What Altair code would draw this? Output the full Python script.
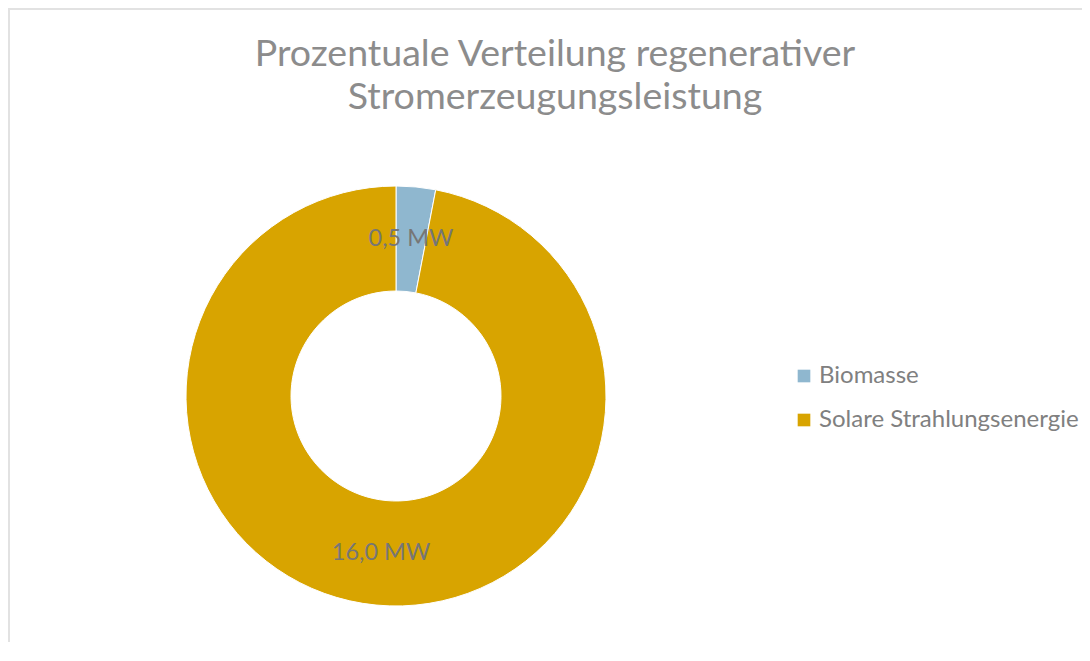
import altair as alt
import pandas as pd

# ---- data ----
categories = ["Biomasse", "Solare Strahlungsenergie"]
values_mw = [0.5, 16.0]
value_labels = ["0,5 MW", "16,0 MW"]
slice_order = [0, 1]
colors = ["#8FB7CF", "#D8A400"]
title_lines = ["Prozentuale Verteilung regenerativer", "Stromerzeugungsleistung"]

df = pd.DataFrame({
    "Kategorie": categories,
    "Wert": values_mw,
    "Label": value_labels,
    "Reihenfolge": slice_order,
})

W, H = 1074, 634
CX, CY = 388, 388
FONT = "Lato"

color_scale = alt.Scale(domain=categories, range=colors)

base = alt.Chart(df).encode(
    theta=alt.Theta("Wert:Q", stack=True),
    order=alt.Order("Reihenfolge:Q", sort="ascending"),
)

donut = base.mark_arc(
    outerRadius=210, innerRadius=105, stroke="#ffffff", strokeWidth=1
).encode(
    color=alt.Color(
        "Kategorie:N",
        scale=color_scale,
        sort=categories,
        legend=alt.Legend(
            title=None,
            orient="none",
            legendX=784,
            legendY=356,
            symbolType="square",
            symbolSize=160,
            symbolStrokeWidth=0,
            labelFont=FONT,
            labelFontSize=24,
            labelColor="#808080",
            labelOffset=3,
            rowPadding=20,
            labelLimit=400,
        ),
    ),
    x=alt.value(CX),
    y=alt.value(CY),
)

labels = base.mark_text(
    radius=157.5, font=FONT, fontSize=23.5, color="#767676",
    align="center", baseline="middle",
).encode(
    text="Label:N",
    x=alt.value(CX),
    y=alt.value(CY),
)

title_layers = []
for i, line in enumerate(title_lines):
    title_layers.append(
        alt.Chart(pd.DataFrame({"t": [line]})).mark_text(
            font=FONT, fontSize=37.5, color="#8c8c8c",
            align="center", baseline="alphabetic",
        ).encode(text="t:N", x=alt.value(547), y=alt.value(58 + 43 * i))
    )

edge = pd.DataFrame({"e": [0]})
top_border = alt.Chart(edge).mark_rule(color="#e2e2e2", strokeWidth=2).encode(
    x=alt.value(0), x2=alt.value(W + 20), y=alt.value(1)
)
left_border = alt.Chart(edge).mark_rule(color="#e2e2e2", strokeWidth=2).encode(
    x=alt.value(1), y=alt.value(0), y2=alt.value(H + 20)
)

chart = alt.layer(
    top_border, left_border, donut, labels, *title_layers
).properties(
    width=W, height=H, padding=0,
    autosize=alt.AutoSizeParams(type="none"),
    background="white",
).configure_view(stroke="transparent", strokeWidth=0)

chart.save("out.html", embed_options={"renderer": "svg", "actions": False})
